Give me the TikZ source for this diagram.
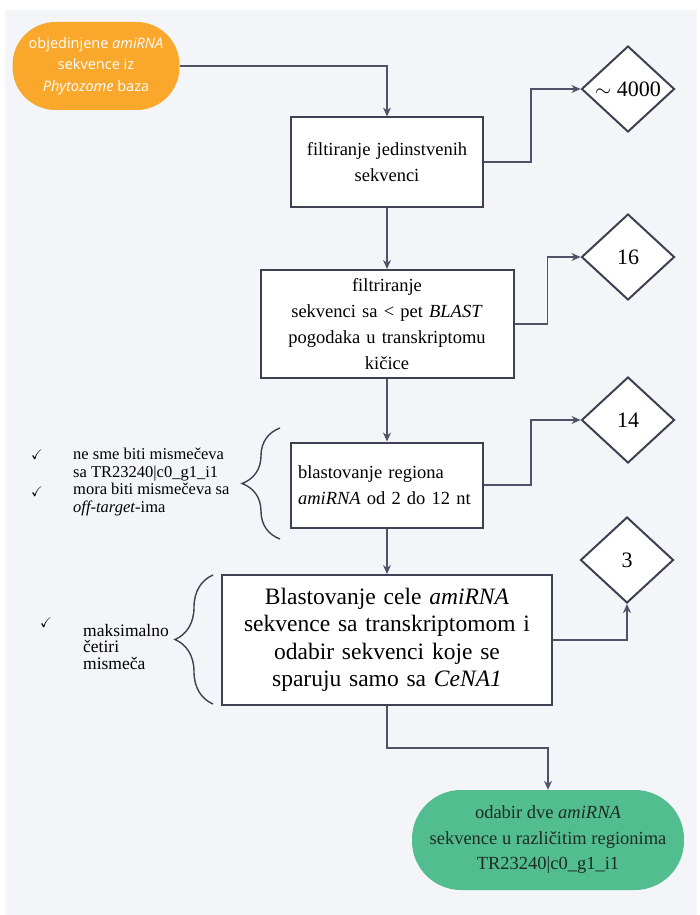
\documentclass[tikz,border=0pt]{standalone}
\usepackage{fontspec}
\usepackage{amssymb}
\setmainfont{Liberation Serif}
\newfontfamily\startfont{Open Sans}
\usetikzlibrary{shapes.geometric,arrows.meta,decorations.pathreplacing}

\definecolor{bgcol}{HTML}{F3F5F9}
\definecolor{linecol}{HTML}{4F5368}
\definecolor{framecol}{HTML}{3E4152}
\definecolor{startcol}{HTML}{F9A82B}
\definecolor{endcol}{HTML}{52BD8F}
\definecolor{endtext}{HTML}{1E2B25}

\tikzset{
	flow/.style={draw=linecol, line width=1.3pt, -{Stealth[length=9pt,width=8pt]}},
	stepbox/.style={draw=framecol, line width=2pt, fill=white, align=center, font=\fontsize{18.5}{26}\selectfont},
	countbox/.style={diamond, draw=framecol, line width=2pt, fill=white, minimum width=93pt, minimum height=86pt, inner sep=0pt, font=\fontsize{22}{26}\selectfont},
	bracket/.style={draw=framecol, line width=1.4pt, decorate},
	note/.style={inner sep=0pt, align=left, text=black, font=\fontsize{16.5}{17.7}\selectfont}
}

\begin{document}
\begin{tikzpicture}[x=1pt, y=-1pt]
	\useasboundingbox (0,0) rectangle (700,915);
	\fill[white] (0,0) rectangle (700,915);
	\fill[bgcol] (5,10) rectangle (697,915);

	% start and end of the pipeline
	\node[rectangle, rounded corners=43pt, fill=startcol, minimum width=167pt, minimum height=88pt, align=center, text=white, font=\startfont\fontsize{14.5}{21.5}\selectfont] (src) at (96,66) {objedinjene \textit{amiRNA}\\sekvence iz\\\textit{Phytozome} baza};
	\node[rectangle, rounded corners=49pt, fill=endcol, minimum width=272pt, minimum height=100pt, align=center, text=endtext, font=\fontsize{18.5}{25.5}\selectfont] (pick) at (548,840) {odabir dve \textit{amiRNA}\\sekvence u razli\v{c}itim regionima\\TR23240|c0\_g1\_i1};

	% filtering steps
	\node[stepbox, minimum width=192pt, minimum height=89pt, text width=178pt] (uniq) at (387,162) {filtiranje jedinstvenih\\sekvenci};
	\node[stepbox, minimum width=253pt, minimum height=108pt, text width=238pt] (blastfilt) at (387,324) {filtriranje\\sekvenci sa < pet \textit{BLAST}\\pogodaka u transkriptomu\\ki\v{c}ice};
	\node[stepbox, minimum width=192pt, minimum height=85pt, text width=178pt, align=left] (seedblast) at (387,485) {blastovanje regiona\\\textit{amiRNA} od 2 do 12 nt};
	\node[stepbox, minimum width=330pt, minimum height=130pt, text width=315pt, font=\fontsize{23.5}{27.5}\selectfont] (fullblast) at (387,640) {Blastovanje cele \textit{amiRNA}\\sekvence sa transkriptomom i\\odabir sekvenci koje se\\sparuju samo sa \textit{CeNA1}};

	% number of sequences left after each step
	\node[countbox] (nUniq) at (628,89) {$\sim$ 4000};
	\node[countbox] (nBlast) at (628,257) {16};
	\node[countbox] (nSeed) at (628,420) {14};
	\node[countbox] (nFull) at (627,560) {3};

	\draw[flow] (src) -| (uniq);
	\draw[flow] (uniq) -- (blastfilt);
	\draw[flow] (blastfilt) -- (seedblast);
	\draw[flow] (seedblast) -- (fullblast);
	\draw[flow] (fullblast.south) -- ++(0,42) -| (pick);

	\draw[flow] (uniq.east) -- ++(47,0) |- (nUniq);
	\draw[flow] (blastfilt.east) -- ++(33,0) |- (nBlast);
	\draw[flow] (seedblast.east) -- ++(47,0) |- (nSeed);
	\draw[flow] (fullblast) -| (nFull);

	% conditions for the two blast steps
	\draw[bracket, decoration={brace, amplitude=38pt}] (280,539) -- (280,428);
	\node[note, font=\fontsize{14}{17}\selectfont] at (37,455) {$\checkmark$};
	\node[note, font=\fontsize{14}{17}\selectfont] at (37,492) {$\checkmark$};
	\node[note, anchor=west] (seedrule) at (73,482) {ne sme biti mismečeva\\sa TR23240|c0\_g1\_i1\\mora biti mismečeva sa\\\textit{off-target}-ima};

	\draw[bracket, decoration={brace, amplitude=38pt}] (213,704) -- (213,575);
	\node[note, font=\fontsize{14}{17}\selectfont] at (46,623) {$\checkmark$};
	\node[note, anchor=west, font=\fontsize{17.5}{16.5}\selectfont] (fullrule) at (83,647) {maksimalno\\četiri\\mismeča};
\end{tikzpicture}
\end{document}
